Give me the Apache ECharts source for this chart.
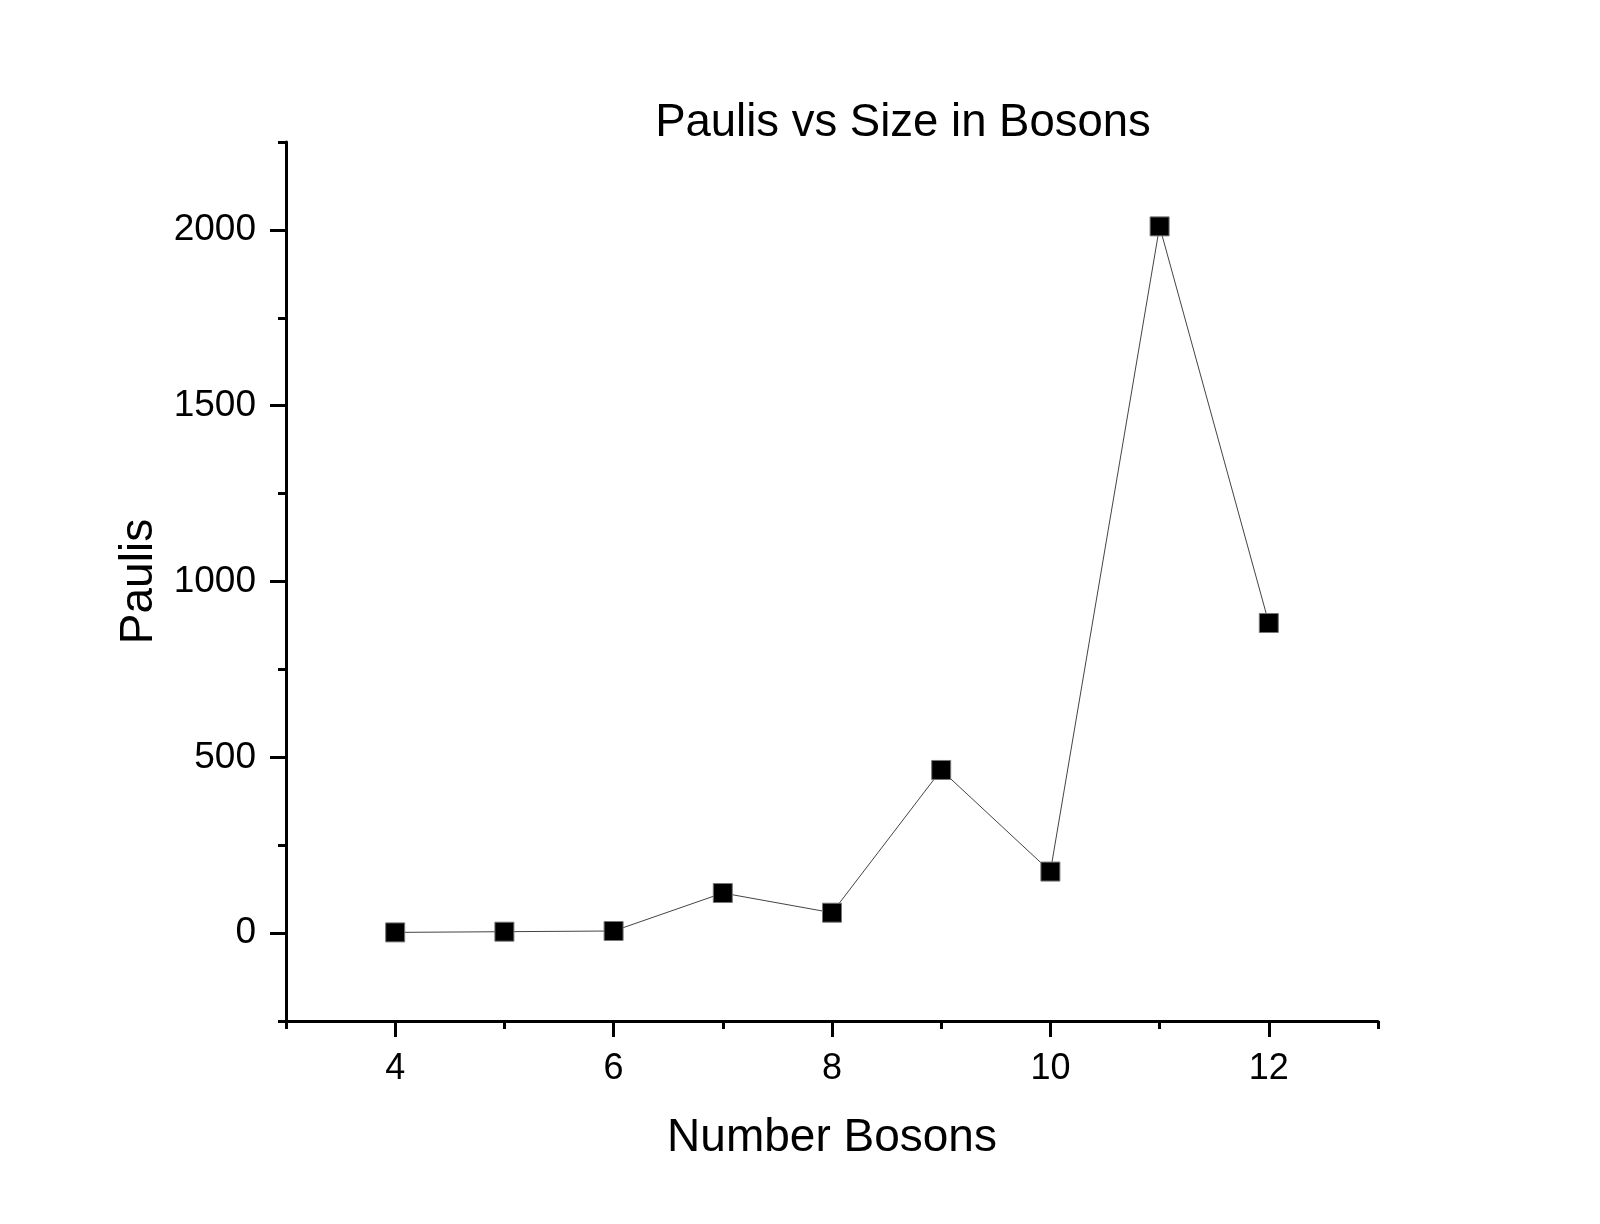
<!DOCTYPE html>
<html>
<head>
<meta charset="utf-8">
<script src="https://cdn.jsdelivr.net/npm/echarts@6/dist/echarts.min.js"></script>
<style>html,body{margin:0;padding:0;background:#fff;}#c{width:1600px;height:1224px;}</style>
</head>
<body>
<div id="c"></div>
<script>
const bosons = [4, 5, 6, 7, 8, 9, 10, 11, 12];
const paulis = [2, 4, 6, 114, 58, 464, 175, 2010, 882];
const xMajorTicks = [4, 6, 8, 10, 12];
const xMinorTicks = [3, 5, 7, 9, 11, 13];
const yMajorTicks = [0, 500, 1000, 1500, 2000];
const yMinorTicks = [-250, 250, 750, 1250, 1750, 2250];
const titleText = 'Paulis vs Size in Bosons';
const xName = 'Number Bosons';
const yName = 'Paulis';

const FONT = 'Liberation Sans, Arial, sans-serif';
const chart = echarts.init(document.getElementById('c'));
const axisCommon = { type: 'value', splitLine: { show: false } };
const plain = v => String(v);
chart.setOption({
  animation: false,
  backgroundColor: '#fff',
  title: {
    text: titleText, left: 898, top: 95, textAlign: 'center',
    textStyle: { fontFamily: FONT, fontSize: 45.5, fontWeight: 'normal', color: '#000' }
  },
  grid: { left: 286, right: 222, top: 142, bottom: 203, containLabel: false },
  xAxis: [
    Object.assign({}, axisCommon, {
      min: 3, max: 13, position: 'bottom',
      name: xName, nameLocation: 'middle', nameGap: 94,
      nameTextStyle: { fontFamily: FONT, fontSize: 46, color: '#000' },
      axisLine: { show: true, onZero: false, lineStyle: { color: '#000', width: 3 } },
      axisTick: { show: true, inside: false, length: 16, customValues: xMajorTicks, lineStyle: { color: '#000', width: 3 } },
      axisLabel: { customValues: xMajorTicks, margin: 30, formatter: plain, fontFamily: FONT, fontSize: 36, color: '#000' }
    }),
    Object.assign({}, axisCommon, {
      min: 3, max: 13, position: 'bottom', offset: 0,
      axisLine: { show: false, onZero: false },
      axisTick: { show: true, inside: false, length: 8, customValues: xMinorTicks, lineStyle: { color: '#000', width: 3 } },
      axisLabel: { show: false }
    })
  ],
  yAxis: [
    Object.assign({}, axisCommon, {
      min: -250, max: 2250, position: 'left',
      name: yName, nameLocation: 'middle', nameGap: 116, nameRotate: 90,
      nameTextStyle: { fontFamily: FONT, fontSize: 46, color: '#000' },
      axisLine: { show: true, onZero: false, lineStyle: { color: '#000', width: 3 } },
      axisTick: { show: true, inside: false, length: 16, customValues: yMajorTicks, lineStyle: { color: '#000', width: 3 } },
      axisLabel: { customValues: yMajorTicks, margin: 30, formatter: plain, fontFamily: FONT, fontSize: 37, color: '#000' }
    }),
    Object.assign({}, axisCommon, {
      min: -250, max: 2250, position: 'left', offset: 0,
      axisLine: { show: false, onZero: false },
      axisTick: { show: true, inside: false, length: 8, customValues: yMinorTicks, lineStyle: { color: '#000', width: 3 } },
      axisLabel: { show: false }
    })
  ],
  series: [{
    type: 'line',
    xAxisIndex: 0, yAxisIndex: 0,
    data: bosons.map((b, i) => [b, paulis[i]]),
    symbol: 'rect', symbolSize: 19,
    itemStyle: { color: '#000', borderColor: '#777', borderWidth: 1 },
    lineStyle: { color: '#444', width: 1 },
    z: 3
  }]
});
</script>
</body>
</html>
